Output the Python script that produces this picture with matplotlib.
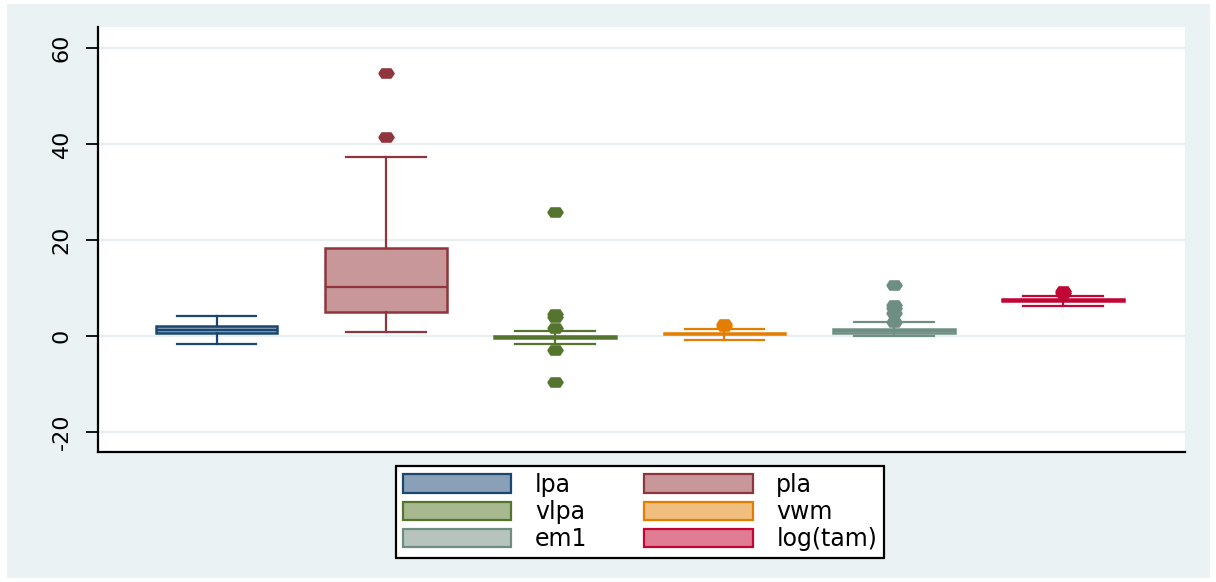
import numpy as np
import matplotlib.pyplot as plt
from matplotlib.patches import Rectangle, Patch

plt.rcParams["axes.unicode_minus"] = False

# box statistics
names = ["lpa", "pla", "vlpa", "vwm", "em1", "log(tam)"]
q1 = [0.6, 5.0, -0.5, 0.35, 0.55, 7.35]
med = [1.3, 10.2, -0.3, 0.5, 1.0, 7.5]
q3 = [2.1, 18.3, -0.1, 0.65, 1.45, 7.65]
whislo = [-1.7, 0.8, -1.7, -0.8, -0.05, 6.25]
whishi = [4.2, 37.3, 1.0, 1.4, 2.8, 8.3]
outliers = [[],
            [41.5, 54.8],
            [-9.7, -2.9, 1.6, 4.0, 4.6, 25.8],
            [2.0, 2.5],
            [3.0, 4.7, 5.9, 6.5, 10.6],
            [8.9, 9.4]]

line_colors = ["#1a476f", "#90353b", "#55752f", "#e37e00", "#6e8e84", "#c10534"]
fill_colors = ["#8aa0b8", "#c8979a", "#a9b98f", "#f0bf80", "#b6c4bd", "#e07c93"]

fig = plt.figure(figsize=(12.16, 5.82), dpi=100, facecolor="white")
# stata style outer region
bg = Rectangle((7 / 1216, 4 / 582), 1203 / 1216, 574 / 582,
               transform=fig.transFigure, facecolor="#eaf2f3",
               edgecolor="none", zorder=-10)
fig.add_artist(bg)

ax = fig.add_axes([98 / 1216, 1 - 452 / 582, 1087 / 1216, 425 / 582])
ax.set_facecolor("white")

# stretched blob marker like stata's rendering
blob = [(-1, 0), (-0.6, 0.6), (0.6, 0.6), (1, 0), (0.6, -0.6), (-0.6, -0.6), (-1, 0)]

for i in range(len(names)):
    st = dict(q1=q1[i], med=med[i], q3=q3[i], whislo=whislo[i], whishi=whishi[i],
              fliers=outliers[i], label=names[i])
    lc = line_colors[i]
    ax.bxp([st], positions=[i + 1], widths=0.72, capwidths=0.47,
           patch_artist=True, showfliers=True,
           boxprops=dict(facecolor=fill_colors[i], edgecolor=lc, linewidth=1.8),
           medianprops=dict(color=lc, linewidth=1.6),
           whiskerprops=dict(color=lc, linewidth=1.6),
           capprops=dict(color=lc, linewidth=1.6),
           flierprops=dict(marker=blob, markersize=11, markerfacecolor=lc,
                           markeredgecolor=lc, linestyle="none"),
           zorder=3)

ax.set_xlim(0.3, 6.72)
ax.set_ylim(-24.2, 64.4)
ax.set_yticks([-20, 0, 20, 40, 60])
ax.set_xticks([])
ax.grid(axis="y", color="#e6eef0", linewidth=1.3, zorder=0)
ax.set_axisbelow(True)

for s in ["top", "right"]:
    ax.spines[s].set_visible(False)
ax.spines["left"].set_linewidth(1.6)
ax.spines["bottom"].set_linewidth(1.6)
ax.tick_params(axis="y", length=9, width=1.3, pad=10, labelsize=16,
               labelrotation=90)
for t in ax.get_yticklabels():
    t.set_verticalalignment("center")
    t.set_fontfamily("DejaVu Sans")

handles = [Patch(facecolor=fill_colors[i], edgecolor=line_colors[i], linewidth=1.6)
           for i in range(len(names))]
# order so that columns read lpa/pla, vlpa/vwm, em1/log(tam)
order = [0, 2, 4, 1, 3, 5]
leg = fig.legend([handles[k] for k in order], [names[k] for k in order],
                 loc="center", bbox_to_anchor=(640 / 1216, 1 - 512 / 582),
                 ncol=2, frameon=True, fancybox=False, edgecolor="black",
                 prop=dict(family="DejaVu Sans", size=17),
                 handlelength=4.6, handleheight=0.8, handletextpad=1.0,
                 columnspacing=2.4, labelspacing=0.14, borderpad=0.3,
                 borderaxespad=0)
leg.get_frame().set_linewidth(1.6)
leg.get_frame().set_facecolor("white")
leg.get_frame().set_alpha(1)

fig.savefig("out.png", dpi=100, facecolor=fig.get_facecolor())
